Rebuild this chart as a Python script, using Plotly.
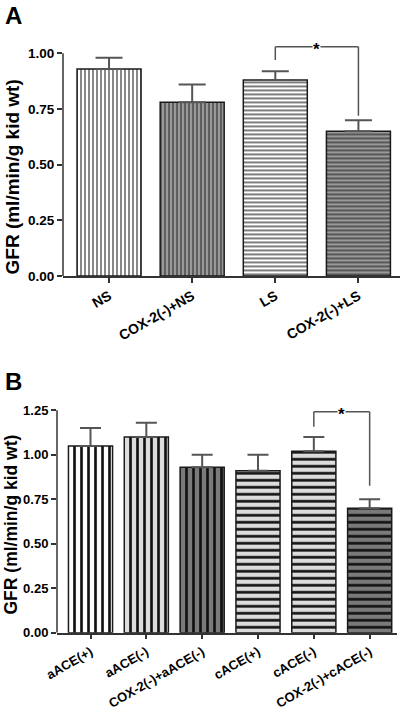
import plotly.graph_objects as go

# ---------------- data ----------------
cats_a = ["NS", "COX-2(-)+NS", "LS", "COX-2(-)+LS"]
gfr_a = [0.93, 0.78, 0.88, 0.65]
err_a = [0.05, 0.08, 0.04, 0.05]
ticks_a = [0.00, 0.25, 0.50, 0.75, 1.00]
ticklabels_a = ["0.00", "0.25", "0.50", "0.75", "1.00"]
bracket_a = {"left": 2, "right": 3, "top": 1.03, "lbot": 0.97, "rbot": 0.72}

cats_b = ["aACE(+)", "aACE(-)", "COX-2(-)+aACE(-)", "cACE(+)", "cACE(-)", "COX-2(-)+cACE(-)"]
gfr_b = [1.05, 1.10, 0.93, 0.91, 1.02, 0.70]
err_b = [0.10, 0.08, 0.07, 0.09, 0.08, 0.05]
ticks_b = [0.00, 0.25, 0.50, 0.75, 1.00, 1.25]
ticklabels_b = ["0.00", "0.25", "0.50", "0.75", "1.00", "1.25"]
bracket_b = {"left": 4, "right": 5, "top": 1.242, "lbot": 1.158, "rbot": 0.826}

# ---------------- styles ----------------
FONT = "Liberation Sans, Arial, sans-serif"
AX = "#333333"
ERR = "#555555"

shape_a = ["|", "|", "-", "-"]
bg_a = ["#ffffff", "#9a9a9a", "#ffffff", "#9a9a9a"]
fg_a = ["#555555", "#444444", "#444444", "#3a3a3a"]

shape_b = ["|", "|", "|", "-", "-", "-"]
bg_b = ["#ffffff", "#dcdcdc", "#7a7a7a", "#dcdcdc", "#dcdcdc", "#7a7a7a"]
fg_b = ["#111111"] * 6

fig = go.Figure()

for i in range(len(cats_a)):
    fig.add_trace(go.Bar(
        x=[i], y=[gfr_a[i]], width=0.77,
        marker=dict(color=bg_a[i], line=dict(color="#1a1a1a", width=1.5),
                    pattern=dict(shape=shape_a[i], bgcolor=bg_a[i], fgcolor=fg_a[i],
                                 size=4, solidity=0.35, fillmode="replace")),
        error_y=dict(type="data", array=[err_a[i]], arrayminus=[0], symmetric=False,
                     color=ERR, thickness=2, width=13.5),
        xaxis="x", yaxis="y", showlegend=False))

for i in range(len(cats_b)):
    fig.add_trace(go.Bar(
        x=[i], y=[gfr_b[i]], width=0.79,
        marker=dict(color=bg_b[i], line=dict(color="#1a1a1a", width=1.5),
                    pattern=dict(shape=shape_b[i], bgcolor=bg_b[i], fgcolor=fg_b[i],
                                 size=7, solidity=0.38, fillmode="replace")),
        error_y=dict(type="data", array=[err_b[i]], arrayminus=[0], symmetric=False,
                     color=ERR, thickness=2, width=10.5),
        xaxis="x2", yaxis="y2", showlegend=False))

common_x = dict(showline=True, linecolor=AX, linewidth=1.5, ticks="outside", ticklen=5,
                tickcolor=AX, tickwidth=1.5, showgrid=False, zeroline=False, tickangle=-30,
                automargin=False,
                tickfont=dict(family=FONT, size=14, color="black", weight="bold"))
common_y = dict(showline=False, ticks="outside", ticklen=5, tickcolor=AX, tickwidth=1.5,
                showgrid=False, zeroline=False, automargin=False,
                tickfont=dict(family=FONT, size=13.5, color="black", weight="bold"))

fig.update_layout(
    width=402, height=712, margin=dict(l=0, r=0, t=0, b=0, autoexpand=False),
    paper_bgcolor="white", plot_bgcolor="white", barmode="overlay",
    xaxis=dict(domain=[0.1567, 0.995], range=[-0.554, 3.5], anchor="y",
               tickvals=list(range(len(cats_a))), ticktext=cats_a, **common_x),
    yaxis=dict(domain=[0.6124, 0.9376], range=[0, 1.04], anchor="x",
               tickvals=ticks_a, ticktext=ticklabels_a, **common_y),
    xaxis2=dict(domain=[0.1418, 0.9876], range=[-0.6, 5.49], anchor="y2",
                tickvals=list(range(len(cats_b))), ticktext=cats_b, **common_x),
    yaxis2=dict(domain=[0.1114, 0.4287], range=[0, 1.27], anchor="x2",
                tickvals=ticks_b, ticktext=ticklabels_b, **common_y),
)
fig.layout.yaxis2.tickfont.size = 13
fig.layout.xaxis2.tickfont.size = 13

shapes = []
# y-axis lines (stop at top tick)
shapes.append(dict(type="line", xref="x domain", yref="y", x0=0, x1=0, y0=0, y1=ticks_a[-1],
                   line=dict(color=AX, width=1.5)))
shapes.append(dict(type="line", xref="x2 domain", yref="y2", x0=0, x1=0, y0=0, y1=ticks_b[-1],
                   line=dict(color=AX, width=1.5)))


def bracket(br, xr, yr):
    out = []
    pts = [(br["left"], br["lbot"], br["left"], br["top"]),
           (br["left"], br["top"], br["right"], br["top"]),
           (br["right"], br["top"], br["right"], br["rbot"])]
    for x0, y0, x1, y1 in pts:
        out.append(dict(type="line", xref=xr, yref=yr, x0=x0, y0=y0, x1=x1, y1=y1,
                        line=dict(color=ERR, width=1.5)))
    return out


shapes += bracket(bracket_a, "x", "y")
shapes += bracket(bracket_b, "x2", "y2")
fig.update_layout(shapes=shapes)

ann = []
for br, xr, yr in [(bracket_a, "x", "y"), (bracket_b, "x2", "y2")]:
    ann.append(dict(x=(br["left"] + br["right"]) / 2, y=br["top"], xref=xr, yref=yr,
                    text="<b>*</b>", showarrow=False, bgcolor="white", borderpad=0,
                    xanchor="center", yanchor="middle",
                    yshift=-3, font=dict(family=FONT, size=17, color="black")))

ann.append(dict(x=12.5 / 402, y=1 - 177 / 712, xref="paper", yref="paper",
                text="<b>GFR (ml/min/g kid wt)</b>", xanchor="center", yanchor="middle",
                textangle=-90, showarrow=False, font=dict(family=FONT, size=19, color="black")))
ann.append(dict(x=10.5 / 402, y=1 - 525 / 712, xref="paper", yref="paper",
                text="<b>GFR (ml/min/g kid wt)</b>", xanchor="center", yanchor="middle",
                textangle=-90, showarrow=False, font=dict(family=FONT, size=17.5, color="black")))
ann.append(dict(x=4 / 402, y=1 - 15 / 712, xref="paper", yref="paper", text="<b>A</b>",
                xanchor="left", yanchor="middle", showarrow=False, borderpad=0,
                font=dict(family=FONT, size=24, color="black")))
ann.append(dict(x=4 / 402, y=1 - 381 / 712, xref="paper", yref="paper", text="<b>B</b>",
                xanchor="left", yanchor="middle", showarrow=False, borderpad=0,
                font=dict(family=FONT, size=24, color="black")))
fig.update_layout(annotations=ann)

fig.write_html("out.html", config={"displayModeBar": False},
               post_script="document.body.style.margin='0';document.body.style.overflow='hidden';")
